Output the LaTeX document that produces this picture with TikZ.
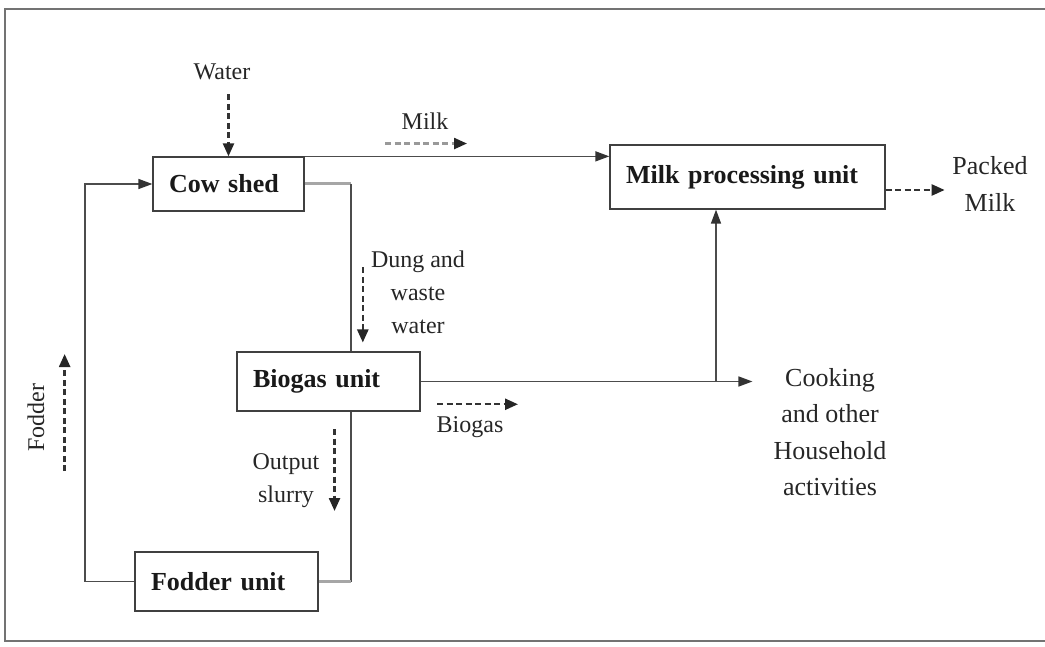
\documentclass[tikz,border=0pt]{standalone}
\usepackage{fontspec}
\setmainfont{Liberation Serif}
\usetikzlibrary{arrows.meta}
\tikzstyle{box}=[draw=black!75,line width=1.3pt,fill=white,inner xsep=16pt,align=left,font=\fontsize{26}{30}\selectfont\bfseries,text=black!90]
\tikzstyle{lbl}=[inner sep=0pt,align=center,text=black!85,font=\fontsize{24}{33}\selectfont]
\tikzstyle{bigtxt}=[font=\fontsize{26}{36.5}\selectfont]
\tikzstyle{link}=[line width=1.5pt,draw=black!70]
\tikzstyle{grayline}=[line width=3pt,draw=black!35]
\tikzstyle{tip}=[-{Triangle[length=14pt,width=10pt,color=black!80]}]
\tikzstyle{dflow}=[line width=2.4pt,draw=black!80,dash pattern=on 6pt off 3.5pt,-{Triangle[length=13pt,width=11pt,color=black!85]}]

\begin{document}
\begin{tikzpicture}[x=1pt,y=-1pt]
\useasboundingbox (0,0) rectangle (1045,647);
%cadre
\draw[link,draw=black!55] (1045,9) -- (5,9) -- (5,641) -- (1045,641);

%unites
\node[box,text width=119pt,minimum height=54pt] (CS) at (228.5,184) {Cow shed};
\node[box,text width=243pt,minimum height=64pt] (MPU) at (747.5,177) {Milk processing unit};
\node[box,text width=151pt,minimum height=59pt] (BU) at (328.5,381.5) {Biogas unit};
\node[box,text width=151pt,minimum height=59pt] (FU) at (226.5,581.5) {Fodder unit};

%textes
\node[lbl] (W) at (222,72) {Water};
\node[lbl] (M) at (425,121) {Milk};
\node[lbl,bigtxt] (PM) at (990,184) {Packed\\Milk};
\node[lbl] (DW) at (418,292.5) {Dung and\\waste\\water};
\node[lbl] (BG) at (470,427) {Biogas};
\node[lbl,bigtxt,inner xsep=21pt] (CK) at (830,432) {Cooking\\and other\\Household\\activities};
\node[lbl] (OS) at (286,481) {Output\\slurry};
\node[lbl,rotate=90] (FD) at (36,418) {Fodder};

%liaisons
\coordinate (DX) at (351,0);
\coordinate (J) at (716,0);
\coordinate (LX) at (85,0);
\draw[link,tip] (CS.north east) -- (CS.north east -| MPU.west);
\draw[link,grayline] (CS.east) -- (CS.east -| DX);
\draw[link] (CS.east -| DX) -- (BU.north -| DX);
\draw[link,tip] (BU.east) -- (BU.east -| CK.west);
\draw[link,tip] (BU.east -| J) -- (J |- MPU.south);
\draw[link] (BU.south -| DX) -- (FU.east -| DX);
\draw[link,grayline] (FU.east -| DX) -- (FU.east);
\draw[link,tip] (FU.west) -- (FU.west -| LX) |- (CS.west);

%fleches en tirets
\draw[dflow] (CS.north) ++(0,-62) -- (CS.north);
\draw[dflow,draw=black!40] (M.south) ++(-40,14) -- ++(82,0);
\draw[dflow] (MPU.east) ++(0,13) -- ++(59,0);
\draw[dflow] (DW.west) ++(-8,-25) -- ++(0,75);
\draw[dflow] (BG.north) ++(-33,-12) -- ++(81,0);
\draw[dflow] (OS.east) ++(15,-52) -- ++(0,82);
\draw[dflow] (FD.south) ++(20,53) -- ++(0,-117);
\end{tikzpicture}
\end{document}
